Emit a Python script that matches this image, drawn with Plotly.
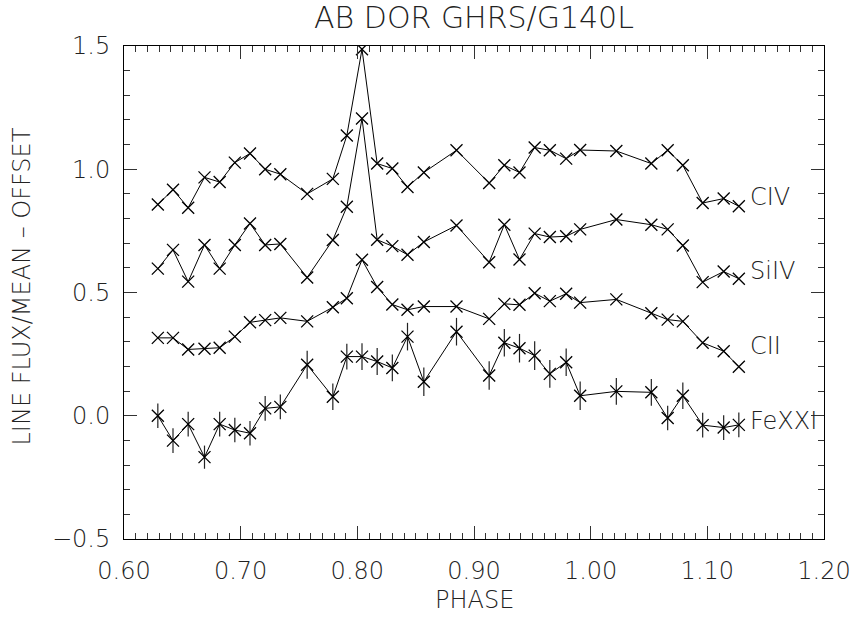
import plotly.graph_objects as go

phase = [0.629, 0.642, 0.655, 0.669, 0.682, 0.695, 0.708, 0.721, 0.734, 0.757, 0.779, 0.791,
         0.804, 0.817, 0.830, 0.843, 0.857, 0.885, 0.913, 0.926, 0.939, 0.952, 0.965, 0.979,
         0.991, 1.022, 1.052, 1.066, 1.079, 1.096, 1.114, 1.127]

civ = [0.857, 0.917, 0.844, 0.967, 0.948, 1.027, 1.064, 1.000, 0.980, 0.900, 0.961, 1.137,
       1.487, 1.023, 1.003, 0.928, 0.987, 1.077, 0.944, 1.016, 0.987, 1.088, 1.077, 1.043,
       1.078, 1.074, 1.023, 1.077, 1.016, 0.863, 0.881, 0.850]

siiv = [0.597, 0.673, 0.544, 0.693, 0.597, 0.693, 0.780, 0.693, 0.697, 0.561, 0.713, 0.848,
        1.206, 0.714, 0.688, 0.653, 0.705, 0.772, 0.623, 0.775, 0.634, 0.739, 0.725, 0.728,
        0.756, 0.796, 0.775, 0.756, 0.691, 0.542, 0.585, 0.556]

cii = [0.316, 0.316, 0.269, 0.272, 0.276, 0.321, 0.379, 0.388, 0.397, 0.383, 0.440, 0.477,
       0.633, 0.522, 0.451, 0.430, 0.443, 0.443, 0.393, 0.454, 0.450, 0.497, 0.465, 0.495,
       0.459, 0.472, 0.416, 0.390, 0.383, 0.296, 0.262, 0.199]

fexxi = [0.000, -0.101, -0.034, -0.168, -0.034, -0.058, -0.071, 0.030, 0.036, 0.207, 0.077, 0.240,
         0.240, 0.220, 0.194, 0.321, 0.138, 0.341, 0.163, 0.296, 0.274, 0.244, 0.170, 0.217,
         0.081, 0.099, 0.095, -0.009, 0.081, -0.038, -0.048, -0.037]

fexxi_err = [0.050, 0.050, 0.050, 0.047, 0.050, 0.050, 0.050, 0.050, 0.050, 0.057, 0.054, 0.052,
             0.054, 0.055, 0.054, 0.056, 0.058, 0.056, 0.058, 0.056, 0.058, 0.058, 0.056, 0.056,
             0.058, 0.054, 0.054, 0.050, 0.054, 0.050, 0.050, 0.050]

series_names = ["CIV", "SiIV", "CII", "FeXXI"]
label_y = [0.886, 0.586, 0.285, -0.02]
label_x = 1.135

TXT = "#222222"
FONT = dict(family="DejaVu Sans", color=TXT, size=24, weight=200)

fig = go.Figure()
for name, vals in zip(series_names, [civ, siiv, cii, fexxi]):
    kw = {}
    if name == "FeXXI":
        kw["error_y"] = dict(type="data", array=fexxi_err, visible=True,
                             width=0, thickness=1.2, color="#222222")
    fig.add_trace(go.Scatter(
        x=phase, y=vals, mode="lines+markers", name=name,
        line=dict(color="black", width=1),
        marker=dict(symbol="x-thin", size=12, line=dict(color="black", width=1.3)),
        showlegend=False, **kw))

for name, ly in zip(series_names, label_y):
    fig.add_annotation(x=label_x, y=ly, text=name, showarrow=False,
                       xanchor="left", yanchor="middle", font=FONT)

# axis titles
fig.add_annotation(x=0, y=0.5, xref="paper", yref="paper", text="LINE FLUX/MEAN \u2013 OFFSET",
                   textangle=-90, showarrow=False, xanchor="center", yanchor="middle",
                   xshift=-103, yshift=6, font=FONT)
fig.add_annotation(x=0.5, y=0, xref="paper", yref="paper", text="PHASE",
                   showarrow=False, xanchor="center", yanchor="middle",
                   yshift=-61, font=FONT)

axis_common = dict(showgrid=False, zeroline=False, showline=True, linecolor="black",
                   linewidth=1, mirror="ticks", ticks="inside", ticklen=13,
                   tickcolor="#333333", tickwidth=1.2, tickfont=FONT, automargin=False)

fig.update_xaxes(range=[0.6, 1.2], dtick=0.1, tick0=0.6, tickformat=".2f",
                 ticklabelstandoff=10,
                 minor=dict(dtick=0.01, ticks="inside", ticklen=6, tickcolor="#333333", tickwidth=1),
                 **axis_common)
fig.update_yaxes(range=[-0.5, 1.5], dtick=0.5, tick0=0, tickformat=".1f",
                 ticklabelstandoff=8,
                 minor=dict(dtick=0.1, ticks="inside", ticklen=6, tickcolor="#333333", tickwidth=1),
                 **axis_common)

fig.update_layout(
    width=851, height=617,
    margin=dict(l=124, r=27, t=46, b=78, autoexpand=False),
    paper_bgcolor="white", plot_bgcolor="white",
    title=dict(text="AB DOR GHRS/G140L", x=0.5, xref="paper", y=1 - 17 / 617, yref="container",
               xanchor="center", yanchor="middle",
               font=dict(family="DejaVu Sans", color=TXT, size=30, weight=200)),
)

fig.write_html("out.html", config={"displayModeBar": False},
               post_script="document.body.style.margin='0px';document.body.style.overflow='hidden';")
